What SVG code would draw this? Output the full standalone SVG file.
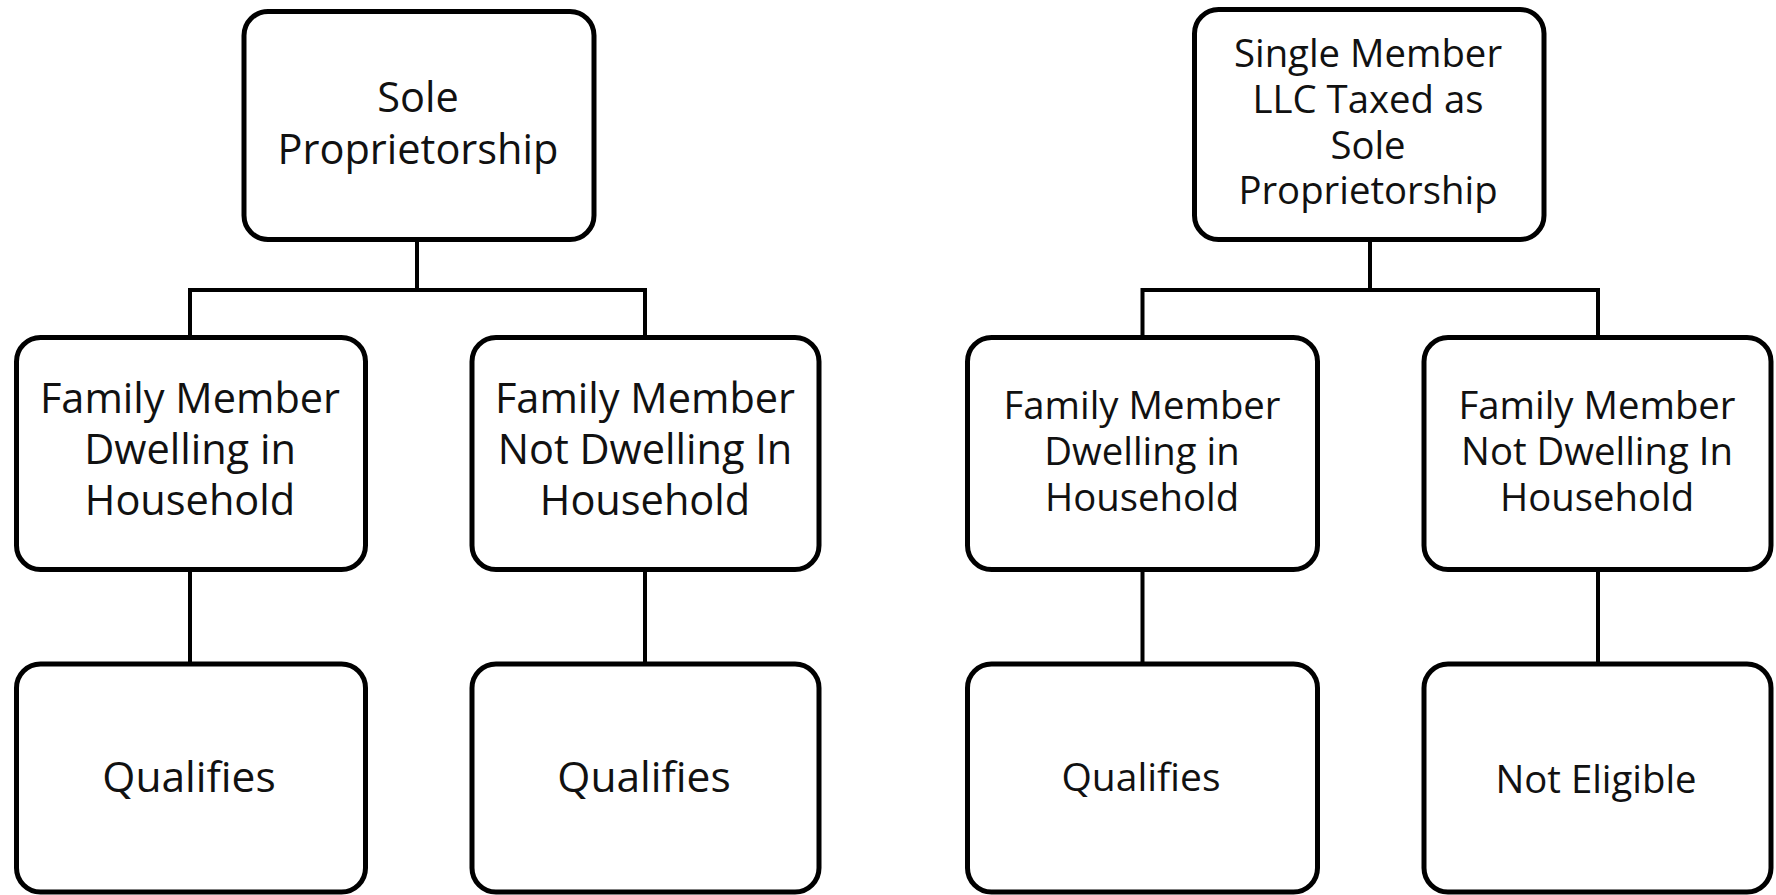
<svg xmlns="http://www.w3.org/2000/svg" width="1776" height="895" viewBox="0 0 1776 895">
<style>
.box{fill:#ffffff;stroke:#000000;stroke-width:5}
.conn{fill:none;stroke:#000000;stroke-width:4;stroke-linejoin:miter;stroke-linecap:butt}
.t{font-family:"Open Sans","Noto Sans","Liberation Sans",sans-serif;fill:#111111;text-anchor:middle}
.l{font-size:41.5px}
.r{font-size:38.3px}
</style>
<rect width="1776" height="895" fill="#ffffff"/>
<g id="connectors">
<path class="conn" d="M417,239.5 V290 M190,290 H645 M190,288 V337.5 M645,288 V337.5"/>
<path class="conn" d="M190,569.5 V664 M645,569.5 V664"/>
<path class="conn" d="M1370,239.5 V290 M1142.5,290 H1598 M1142.5,288 V337.5 M1598,288 V337.5"/>
<path class="conn" d="M1142.5,569.5 V664 M1598,569.5 V664"/>
</g>
<g id="sole-proprietorship">
<rect class="box" x="244" y="11.5" width="350" height="228" rx="24"/>
<text class="t l"><tspan x="418" y="112">Sole</tspan><tspan x="418" y="164">Proprietorship</tspan></text>
</g>
<g id="sp-dwelling">
<rect class="box" x="16.5" y="337.5" width="349" height="232" rx="24"/>
<text class="t l"><tspan x="190" y="413">Family Member</tspan><tspan x="190" y="464">Dwelling in</tspan><tspan x="190" y="515">Household</tspan></text>
</g>
<g id="sp-not-dwelling">
<rect class="box" x="472" y="337.5" width="347" height="232" rx="24"/>
<text class="t l"><tspan x="645" y="413">Family Member</tspan><tspan x="645" y="464">Not Dwelling In</tspan><tspan x="645" y="515">Household</tspan></text>
</g>
<g id="sp-qualifies-1">
<rect class="box" x="16.5" y="664" width="349" height="228" rx="24"/>
<text class="t" style="font-size:42.5px" x="189" y="791.5">Qualifies</text>
</g>
<g id="sp-qualifies-2">
<rect class="box" x="472" y="664" width="347" height="228" rx="24"/>
<text class="t" style="font-size:42.5px" x="644" y="791.5">Qualifies</text>
</g>
<g id="llc">
<rect class="box" x="1194.5" y="9.5" width="349.5" height="230" rx="24"/>
<text class="t r"><tspan x="1368" y="66.7">Single Member</tspan><tspan x="1368" y="113.3">LLC Taxed as</tspan><tspan x="1368" y="158.5">Sole</tspan><tspan x="1368" y="204">Proprietorship</tspan></text>
</g>
<g id="llc-dwelling">
<rect class="box" x="967.5" y="337.5" width="350" height="232" rx="24"/>
<text class="t r"><tspan x="1142" y="418.5">Family Member</tspan><tspan x="1142" y="464.5">Dwelling in</tspan><tspan x="1142" y="510.5">Household</tspan></text>
</g>
<g id="llc-not-dwelling">
<rect class="box" x="1424" y="337.5" width="347" height="232" rx="24"/>
<text class="t r"><tspan x="1597" y="418.5">Family Member</tspan><tspan x="1597" y="464.5">Not Dwelling In</tspan><tspan x="1597" y="510.5">Household</tspan></text>
</g>
<g id="llc-qualifies">
<rect class="box" x="967.5" y="664" width="350" height="228" rx="24"/>
<text class="t" style="font-size:39px" x="1141" y="791">Qualifies</text>
</g>
<g id="llc-not-eligible">
<rect class="box" x="1424" y="664" width="347" height="228" rx="24"/>
<text class="t r" x="1596" y="792.5">Not Eligible</text>
</g>
</svg>
